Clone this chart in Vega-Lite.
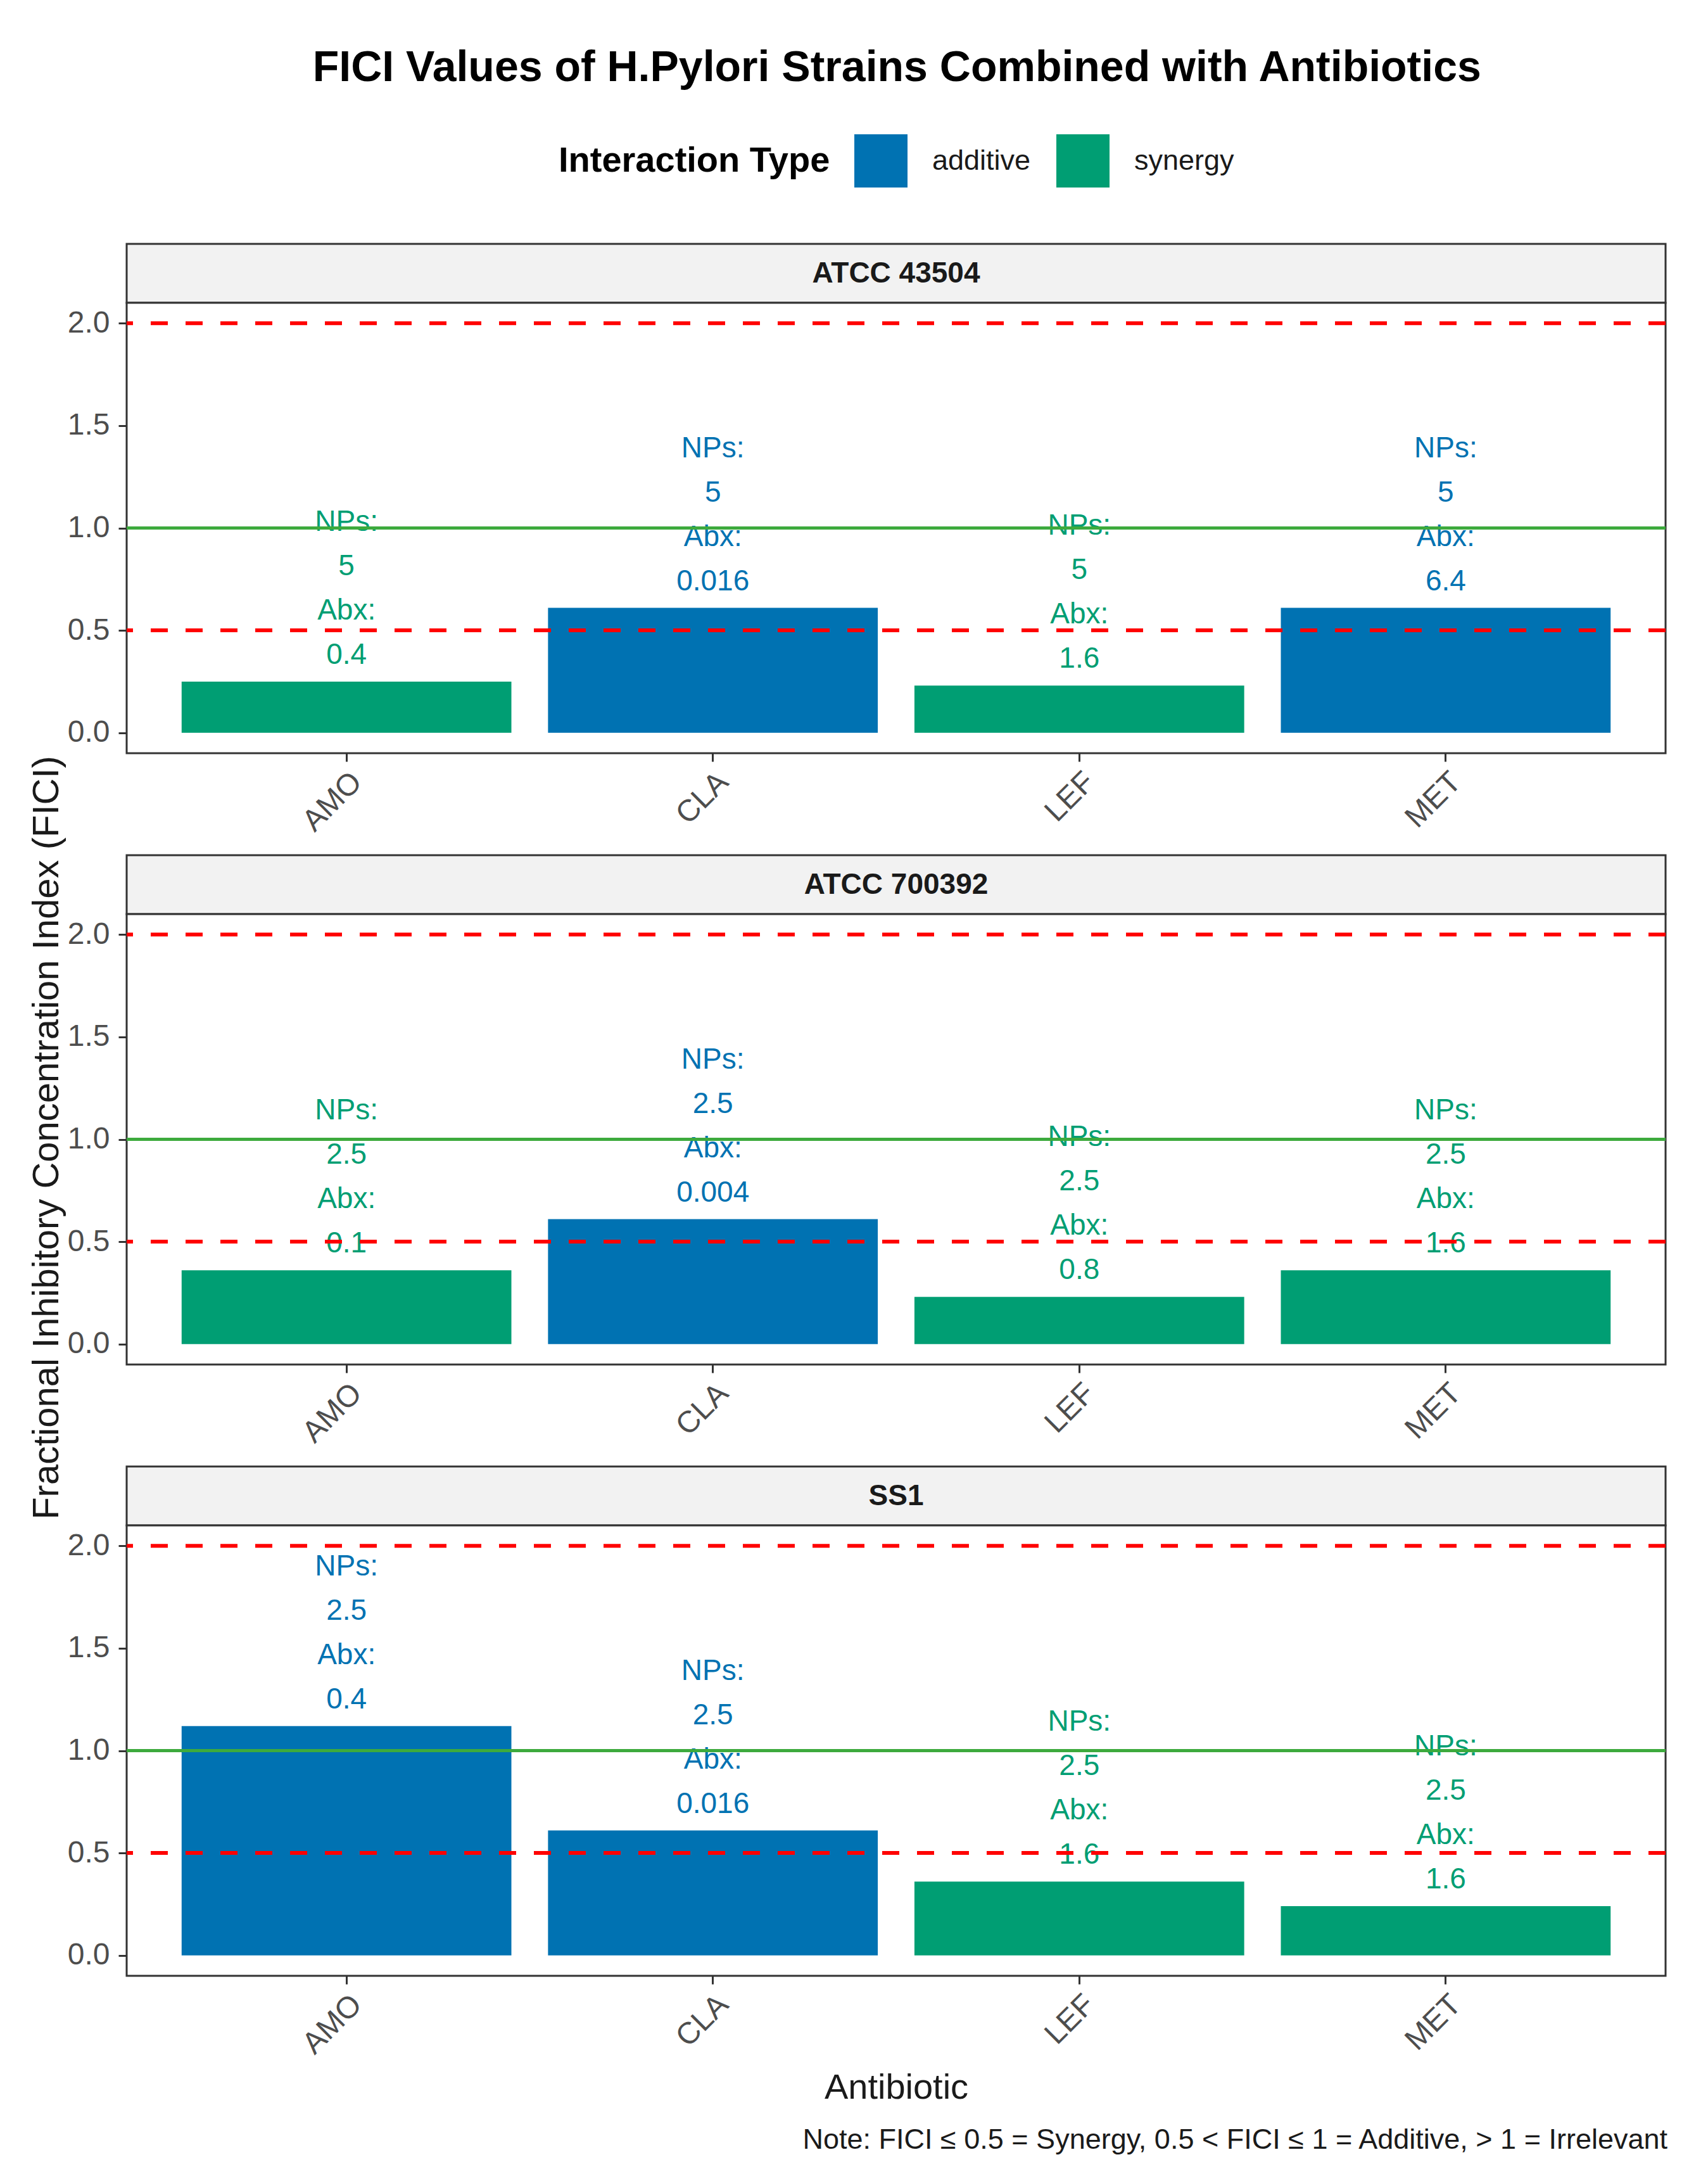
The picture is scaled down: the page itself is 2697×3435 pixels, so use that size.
{
  "$schema": "https://vega.github.io/schema/vega-lite/v6.json",
  "description": "FICI values of H. pylori strains combined with antibiotics",
  "padding": {"left": 45, "top": 74, "right": 60, "bottom": 30},
  "title": {
    "text": "FICI Values of H.Pylori Strains Combined with Antibiotics",
    "anchor": "middle",
    "fontSize": 68,
    "fontWeight": "bold",
    "color": "#000000",
    "offset": 70,
    "dx": 76
  },
  "datasets": {
    "fici": [
      {"strain": "ATCC 43504", "antibiotic": "AMO", "fici": 0.25, "type": "synergy", "label": "NPs:\n5\nAbx:\n0.4"},
      {"strain": "ATCC 43504", "antibiotic": "CLA", "fici": 0.61, "type": "additive", "label": "NPs:\n5\nAbx:\n0.016"},
      {"strain": "ATCC 43504", "antibiotic": "LEF", "fici": 0.23, "type": "synergy", "label": "NPs:\n5\nAbx:\n1.6"},
      {"strain": "ATCC 43504", "antibiotic": "MET", "fici": 0.61, "type": "additive", "label": "NPs:\n5\nAbx:\n6.4"},
      {"strain": "ATCC 700392", "antibiotic": "AMO", "fici": 0.36, "type": "synergy", "label": "NPs:\n2.5\nAbx:\n0.1"},
      {"strain": "ATCC 700392", "antibiotic": "CLA", "fici": 0.61, "type": "additive", "label": "NPs:\n2.5\nAbx:\n0.004"},
      {"strain": "ATCC 700392", "antibiotic": "LEF", "fici": 0.23, "type": "synergy", "label": "NPs:\n2.5\nAbx:\n0.8"},
      {"strain": "ATCC 700392", "antibiotic": "MET", "fici": 0.36, "type": "synergy", "label": "NPs:\n2.5\nAbx:\n1.6"},
      {"strain": "SS1", "antibiotic": "AMO", "fici": 1.12, "type": "additive", "label": "NPs:\n2.5\nAbx:\n0.4"},
      {"strain": "SS1", "antibiotic": "CLA", "fici": 0.61, "type": "additive", "label": "NPs:\n2.5\nAbx:\n0.016"},
      {"strain": "SS1", "antibiotic": "LEF", "fici": 0.36, "type": "synergy", "label": "NPs:\n2.5\nAbx:\n1.6"},
      {"strain": "SS1", "antibiotic": "MET", "fici": 0.24, "type": "synergy", "label": "NPs:\n2.5\nAbx:\n1.6"}
    ],
    "strips": [
      {"strain": "ATCC 43504"},
      {"strain": "ATCC 700392"},
      {"strain": "SS1"}
    ],
    "refs": [
      {"fici": 0.5, "line": "dashed"},
      {"fici": 2.0, "line": "dashed"},
      {"fici": 1.0, "line": "solid"}
    ],
    "ytitle": [
      {"title": "Fractional Inhibitory Concentration Index (FICI)"}
    ]
  },
  "spacing": 0,
  "resolve": {"scale": {"color": "shared"}, "legend": {"color": "shared"}},
  "hconcat": [
    {
      "width": 58,
      "height": 2822,
      "view": {"stroke": null},
      "data": {"name": "ytitle"},
      "mark": {"type": "text", "angle": 270, "fontSize": 58, "color": "#1A1A1A", "baseline": "middle"},
      "encoding": {"text": {"field": "title", "type": "nominal"}}
    },
    {
      "bounds": "full",
      "spacing": 25,
      "vconcat": [
        {
          "bounds": "flush",
          "spacing": 0,
          "vconcat": [
            {
              "width": 2430,
              "height": 93,
              "view": {"fill": "#F2F2F2", "stroke": "#333333", "strokeWidth": 3},
              "data": {"name": "strips"},
              "transform": [{"filter": "datum.strain === 'ATCC 43504'"}],
              "mark": {"type": "text", "fontSize": 46, "fontWeight": "bold", "color": "#1A1A1A", "baseline": "middle"},
              "encoding": {"text": {"field": "strain", "type": "nominal"}}
            },
            {
              "width": 2430,
              "height": 711,
              "view": {"fill": "white", "stroke": "#333333", "strokeWidth": 3},
              "layer": [
                {
                  "data": {"name": "fici"},
                  "transform": [{"filter": "datum.strain === 'ATCC 43504'"}],
                  "mark": {"type": "bar"},
                  "encoding": {
                    "x": {"field": "antibiotic", "type": "nominal", "title": null, "scale": {"paddingInner": 0.1, "paddingOuter": 0.15}},
                    "y": {"field": "fici", "type": "quantitative", "title": null, "scale": {"domain": [-0.1, 2.1], "nice": false, "zero": false}, "axis": {"values": [0, 0.5, 1, 1.5, 2], "format": ".1f"}},
                    "color": {"field": "type", "type": "nominal", "scale": {"domain": ["additive", "synergy"], "range": ["#0072B2", "#009E73"]}, "legend": {"title": "Interaction Type", "orient": "none", "legendX": 836, "legendY": -173, "direction": "horizontal"}}
                  }
                },
                {
                  "data": {"name": "fici"},
                  "transform": [{"filter": "datum.strain === 'ATCC 43504'"}],
                  "mark": {"type": "text", "fontSize": 46, "lineBreak": "\n", "lineHeight": 70, "baseline": "bottom", "dy": -228},
                  "encoding": {
                    "x": {"field": "antibiotic", "type": "nominal", "title": null},
                    "y": {"field": "fici", "type": "quantitative", "title": null},
                    "text": {"field": "label", "type": "nominal"},
                    "color": {"field": "type", "type": "nominal", "legend": null}
                  }
                },
                {
                  "data": {"name": "refs"},
                  "transform": [{"filter": "datum.line === 'dashed'"}],
                  "mark": {"type": "rule", "color": "#FF0000", "strokeWidth": 6, "strokeDash": [27, 28]},
                  "encoding": {"y": {"field": "fici", "type": "quantitative", "title": null}}
                },
                {
                  "data": {"name": "refs"},
                  "transform": [{"filter": "datum.line === 'solid'"}],
                  "mark": {"type": "rule", "color": "#3DAA3D", "strokeWidth": 5},
                  "encoding": {"y": {"field": "fici", "type": "quantitative", "title": null}}
                }
              ]
            }
          ]
        },
        {
          "bounds": "flush",
          "spacing": 0,
          "vconcat": [
            {
              "width": 2430,
              "height": 93,
              "view": {"fill": "#F2F2F2", "stroke": "#333333", "strokeWidth": 3},
              "data": {"name": "strips"},
              "transform": [{"filter": "datum.strain === 'ATCC 700392'"}],
              "mark": {"type": "text", "fontSize": 46, "fontWeight": "bold", "color": "#1A1A1A", "baseline": "middle"},
              "encoding": {"text": {"field": "strain", "type": "nominal"}}
            },
            {
              "width": 2430,
              "height": 711,
              "view": {"fill": "white", "stroke": "#333333", "strokeWidth": 3},
              "layer": [
                {
                  "data": {"name": "fici"},
                  "transform": [{"filter": "datum.strain === 'ATCC 700392'"}],
                  "mark": {"type": "bar"},
                  "encoding": {
                    "x": {"field": "antibiotic", "type": "nominal", "title": null, "scale": {"paddingInner": 0.1, "paddingOuter": 0.15}},
                    "y": {"field": "fici", "type": "quantitative", "title": null, "scale": {"domain": [-0.1, 2.1], "nice": false, "zero": false}, "axis": {"values": [0, 0.5, 1, 1.5, 2], "format": ".1f"}},
                    "color": {"field": "type", "type": "nominal", "scale": {"domain": ["additive", "synergy"], "range": ["#0072B2", "#009E73"]}, "legend": {"title": "Interaction Type", "orient": "none", "legendX": 836, "legendY": -173, "direction": "horizontal"}}
                  }
                },
                {
                  "data": {"name": "fici"},
                  "transform": [{"filter": "datum.strain === 'ATCC 700392'"}],
                  "mark": {"type": "text", "fontSize": 46, "lineBreak": "\n", "lineHeight": 70, "baseline": "bottom", "dy": -228},
                  "encoding": {
                    "x": {"field": "antibiotic", "type": "nominal", "title": null},
                    "y": {"field": "fici", "type": "quantitative", "title": null},
                    "text": {"field": "label", "type": "nominal"},
                    "color": {"field": "type", "type": "nominal", "legend": null}
                  }
                },
                {
                  "data": {"name": "refs"},
                  "transform": [{"filter": "datum.line === 'dashed'"}],
                  "mark": {"type": "rule", "color": "#FF0000", "strokeWidth": 6, "strokeDash": [27, 28]},
                  "encoding": {"y": {"field": "fici", "type": "quantitative", "title": null}}
                },
                {
                  "data": {"name": "refs"},
                  "transform": [{"filter": "datum.line === 'solid'"}],
                  "mark": {"type": "rule", "color": "#3DAA3D", "strokeWidth": 5},
                  "encoding": {"y": {"field": "fici", "type": "quantitative", "title": null}}
                }
              ]
            }
          ]
        },
        {
          "bounds": "flush",
          "spacing": 0,
          "vconcat": [
            {
              "width": 2430,
              "height": 93,
              "view": {"fill": "#F2F2F2", "stroke": "#333333", "strokeWidth": 3},
              "data": {"name": "strips"},
              "transform": [{"filter": "datum.strain === 'SS1'"}],
              "mark": {"type": "text", "fontSize": 46, "fontWeight": "bold", "color": "#1A1A1A", "baseline": "middle"},
              "encoding": {"text": {"field": "strain", "type": "nominal"}}
            },
            {
              "width": 2430,
              "height": 711,
              "view": {"fill": "white", "stroke": "#333333", "strokeWidth": 3},
              "title": {"text": "Note: FICI ≤ 0.5 = Synergy, 0.5 < FICI ≤ 1 = Additive, > 1 = Irrelevant", "orient": "bottom", "anchor": "end", "fontSize": 45, "fontWeight": "normal", "color": "#1A1A1A", "offset": 33},
              "layer": [
                {
                  "data": {"name": "fici"},
                  "transform": [{"filter": "datum.strain === 'SS1'"}],
                  "mark": {"type": "bar"},
                  "encoding": {
                    "x": {"field": "antibiotic", "type": "nominal", "title": "Antibiotic", "scale": {"paddingInner": 0.1, "paddingOuter": 0.15}},
                    "y": {"field": "fici", "type": "quantitative", "title": null, "scale": {"domain": [-0.1, 2.1], "nice": false, "zero": false}, "axis": {"values": [0, 0.5, 1, 1.5, 2], "format": ".1f"}},
                    "color": {"field": "type", "type": "nominal", "scale": {"domain": ["additive", "synergy"], "range": ["#0072B2", "#009E73"]}, "legend": {"title": "Interaction Type", "orient": "none", "legendX": 836, "legendY": -173, "direction": "horizontal"}}
                  }
                },
                {
                  "data": {"name": "fici"},
                  "transform": [{"filter": "datum.strain === 'SS1'"}],
                  "mark": {"type": "text", "fontSize": 46, "lineBreak": "\n", "lineHeight": 70, "baseline": "bottom", "dy": -228},
                  "encoding": {
                    "x": {"field": "antibiotic", "type": "nominal", "title": "Antibiotic"},
                    "y": {"field": "fici", "type": "quantitative", "title": null},
                    "text": {"field": "label", "type": "nominal"},
                    "color": {"field": "type", "type": "nominal", "legend": null}
                  }
                },
                {
                  "data": {"name": "refs"},
                  "transform": [{"filter": "datum.line === 'dashed'"}],
                  "mark": {"type": "rule", "color": "#FF0000", "strokeWidth": 6, "strokeDash": [27, 28]},
                  "encoding": {"y": {"field": "fici", "type": "quantitative", "title": null}}
                },
                {
                  "data": {"name": "refs"},
                  "transform": [{"filter": "datum.line === 'solid'"}],
                  "mark": {"type": "rule", "color": "#3DAA3D", "strokeWidth": 5},
                  "encoding": {"y": {"field": "fici", "type": "quantitative", "title": null}}
                }
              ]
            }
          ]
        }
      ]
    }
  ],
  "config": {
    "font": "Liberation Sans",
    "background": "white",
    "axis": {
      "domain": false,
      "grid": false,
      "tickColor": "#333333",
      "tickWidth": 3,
      "tickSize": 13,
      "labelColor": "#4D4D4D",
      "labelFontSize": 48,
      "labelFont": "Liberation Sans",
      "titleFont": "Liberation Sans",
      "titleFontSize": 56,
      "titleFontWeight": "normal",
      "titleColor": "#1A1A1A"
    },
    "axisY": {"labelPadding": 14, "titlePadding": 14},
    "axisX": {"labelAngle": -45, "labelAlign": "right", "labelBaseline": "top", "labelPadding": 8, "titlePadding": 17},
    "legend": {
      "titleOrient": "left",
      "titleFontSize": 56,
      "titleFontWeight": "bold",
      "titleColor": "#000000",
      "titleFont": "Liberation Sans",
      "titleAnchor": "middle",
      "titleBaseline": "middle",
      "titlePadding": 38,
      "titleLimit": 2000,
      "labelFontSize": 45,
      "labelColor": "#1A1A1A",
      "labelFont": "Liberation Sans",
      "labelOffset": 39,
      "labelLimit": 1000,
      "columnPadding": 40,
      "symbolType": "square",
      "symbolSize": 7056,
      "symbolStrokeWidth": 0,
      "symbolOpacity": 1,
      "padding": 0
    }
  }
}
